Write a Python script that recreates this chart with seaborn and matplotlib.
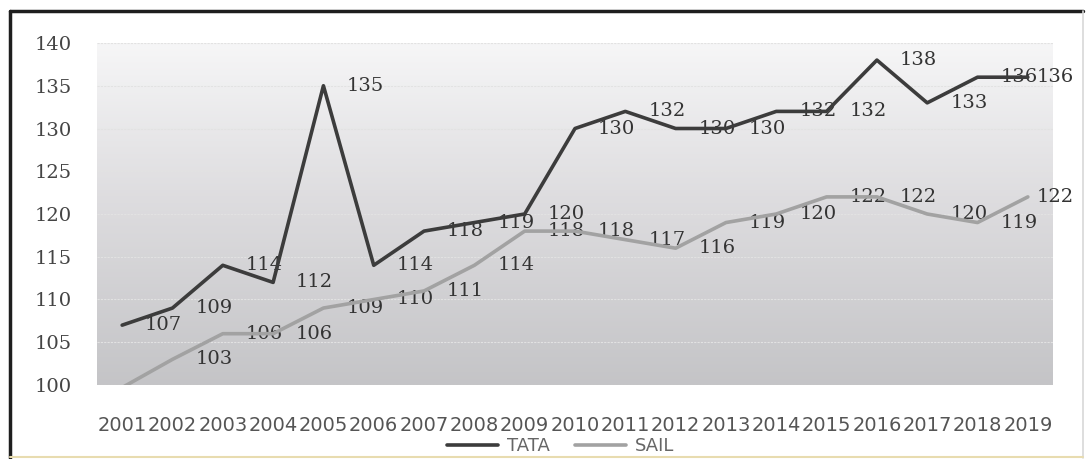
import numpy as np
import pandas as pd
import matplotlib
matplotlib.use("Agg")
import matplotlib.pyplot as plt
from matplotlib.lines import Line2D
import seaborn as sns

# Yearly index values for the two steel makers
years = [str(y) for y in range(2001, 2020)]
tata = [107, 109, 114, 112, 135, 114, 118, 119, 120, 130, 132, 130, 130, 132, 132, 138, 133, 136, 136]
sail = [99.7, 103, 106, 106, 109, 110, 111, 114, 118, 118, 117, 116, 119, 120, 122, 122, 120, 119, 122]
series_names = ["TATA", "SAIL"]
y_ticks = [100, 105, 110, 115, 120, 125, 130, 135, 140]

df = pd.DataFrame({
    "pos": list(range(len(years))) * 2,
    "value": tata + sail,
    "series": ["TATA"] * len(tata) + ["SAIL"] * len(sail),
})

sns.set_theme(style="white")
plt.rcParams["font.family"] = ["DejaVu Sans"]

W, H = 1089, 459
fig = plt.figure(figsize=(W / 100, H / 100), dpi=100, facecolor="white")
ax = fig.add_axes([97 / W, 1 - 385 / H, (1053 - 97) / W, (385 - 43) / H])
ax.set_facecolor("none")

# soft vertical gradient behind the plot area
t = np.linspace(0, 1, 256)[:, None]
top = np.array([0.965, 0.965, 0.968])
mid = np.array([0.870, 0.866, 0.876])
bot = np.array([0.770, 0.770, 0.780])
grad = np.where(t < 0.45, top + (mid - top) * (t / 0.45), mid + (bot - mid) * ((t - 0.45) / 0.55))
grad = grad[:, None, :] * np.ones((1, 2, 1))
ax.imshow(grad, extent=[0, 1, 0, 1], transform=ax.transAxes, aspect="auto", zorder=0)

# faint horizontal gridlines
for v in y_ticks:
    ax.axhline(v, color="#e2e2e2", lw=0.8, ls=(0, (2, 1)), zorder=1)

palette = {"TATA": "#3c3c3c", "SAIL": "#a2a2a2"}
sns.lineplot(data=df, x="pos", y="value", hue="series", palette=palette,
             hue_order=series_names, ax=ax, legend=False, lw=2.6, zorder=4)
for ln in ax.lines[-2:]:
    ln.set_solid_joinstyle("round")

# value labels to the right of each point; the last one is pulled in to stay inside the frame
last = len(years) - 1
for vals in (tata, sail):
    for i, v in enumerate(vals):
        dx = 6.5 if i == last else 16.5
        ax.annotate(f"{v:.0f}", xy=(i, v), xytext=(dx, 0), textcoords="offset points",
                    ha="left", va="center", fontsize=14, family="DejaVu Serif",
                    color="#333333", zorder=3, annotation_clip=True)

ax.set_xlim(-0.5, len(years) - 0.5)
ax.set_ylim(100, 140)
ax.set_xticks(range(len(years)))
ax.set_xticklabels(years, fontsize=14, color="#555555")
ax.set_yticks(y_ticks)
ax.set_yticklabels([str(v) for v in y_ticks], fontsize=14, family="DejaVu Serif", color="#444444")
ax.tick_params(axis="x", length=0, pad=22)
ax.tick_params(axis="y", length=0, pad=18)
ax.set_xlabel("")
ax.set_ylabel("")
for s in ax.spines.values():
    s.set_visible(False)

handles = [Line2D([], [], color=palette[n], lw=2.6) for n in series_names]
leg = fig.legend(handles, series_names, loc="center", bbox_to_anchor=(0.515, 0.028),
                 ncol=2, frameon=False, fontsize=13, handlelength=2.8,
                 handletextpad=0.5, columnspacing=1.4)
for txt in leg.get_texts():
    txt.set_color("#666666")

# outer frame around the chart
fig.add_artist(Line2D([10 / W, 1083 / W], [1 - 11 / H, 1 - 11 / H], transform=fig.transFigure, color="#1e1e1e", lw=2.5))
fig.add_artist(Line2D([10 / W, 10 / W], [1 - 11 / H, 1 - 458 / H], transform=fig.transFigure, color="#1e1e1e", lw=2.5))
fig.add_artist(Line2D([1083 / W, 1083 / W], [1 - 11 / H, 1 - 458 / H], transform=fig.transFigure, color="#d8d8d8", lw=1.2))
fig.add_artist(Line2D([10 / W, 1083 / W], [1 - 457 / H, 1 - 457 / H], transform=fig.transFigure, color="#e8dcb0", lw=1.5))

fig.savefig("out.png", dpi=100, facecolor="white")
